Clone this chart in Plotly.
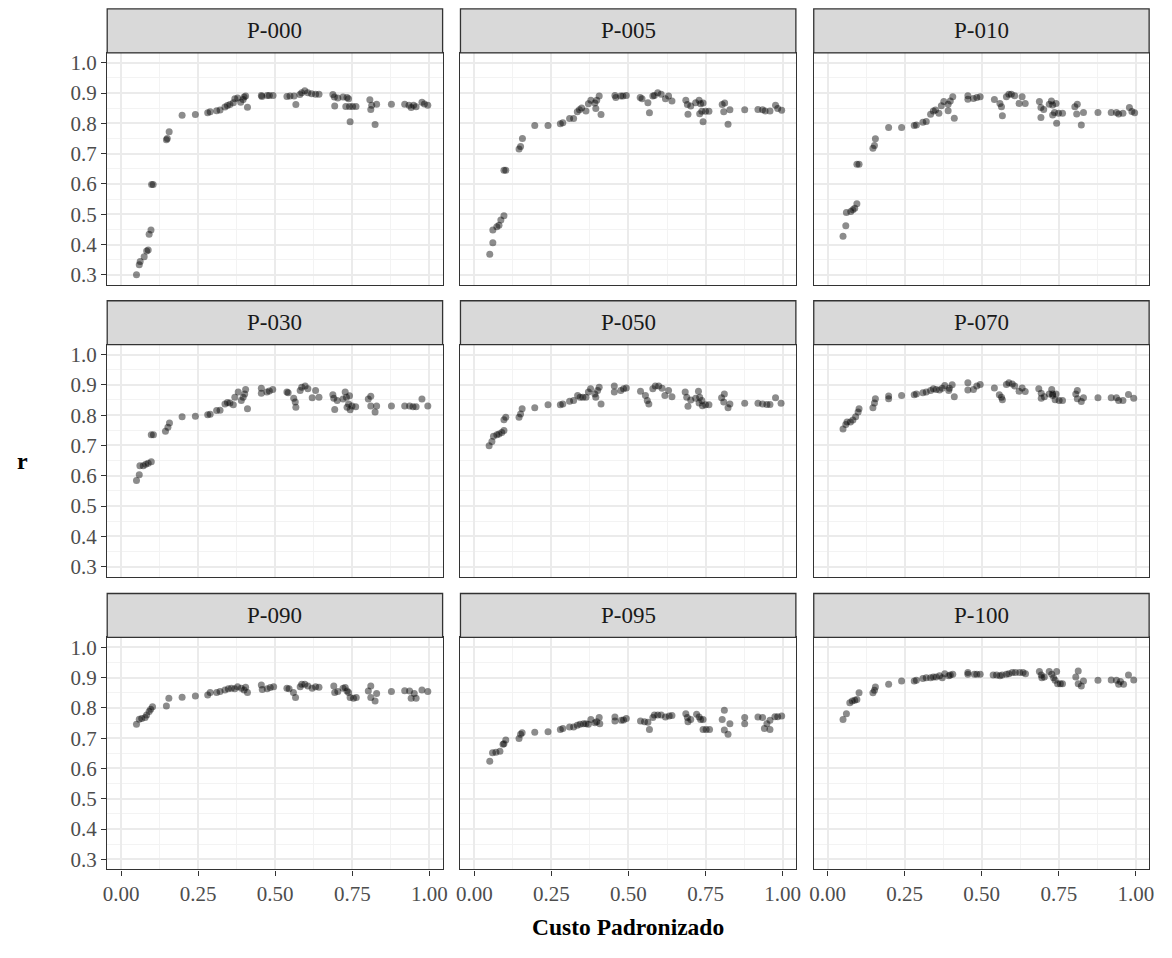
import plotly.graph_objects as go

# ---- data: standardized cost vs. correlation r, one pair of lists per scenario ----
panels = ["P-000", "P-005", "P-010", "P-030", "P-050", "P-070", "P-090", "P-095", "P-100"]

cost_000 = [0.050, 0.059, 0.062, 0.075, 0.083, 0.088, 0.091, 0.097, 0.099, 0.104,
            0.147, 0.150, 0.156, 0.198, 0.241, 0.281, 0.289, 0.310, 0.321, 0.337,
            0.345, 0.353, 0.364, 0.369, 0.378, 0.388, 0.396, 0.399, 0.404, 0.410,
            0.455, 0.457, 0.474, 0.481, 0.493, 0.538, 0.548, 0.561, 0.567, 0.580,
            0.586, 0.596, 0.606, 0.618, 0.631, 0.642, 0.687, 0.692, 0.693, 0.703,
            0.720, 0.733, 0.738, 0.729, 0.741, 0.743, 0.751, 0.762, 0.807, 0.810,
            0.813, 0.824, 0.829, 0.877, 0.920, 0.934, 0.941, 0.949, 0.957, 0.976,
            0.984, 0.995]
r_000 = [0.300, 0.333, 0.344, 0.360, 0.379, 0.382, 0.434, 0.448, 0.598, 0.598,
         0.746, 0.750, 0.772, 0.827, 0.829, 0.835, 0.838, 0.842, 0.844, 0.854,
         0.859, 0.862, 0.868, 0.881, 0.884, 0.870, 0.879, 0.887, 0.890, 0.853,
         0.892, 0.889, 0.892, 0.892, 0.892, 0.889, 0.890, 0.890, 0.862, 0.895,
         0.901, 0.908, 0.901, 0.898, 0.896, 0.896, 0.895, 0.887, 0.857, 0.884,
         0.887, 0.885, 0.881, 0.856, 0.856, 0.805, 0.856, 0.856, 0.878, 0.846,
         0.860, 0.796, 0.863, 0.863, 0.863, 0.860, 0.852, 0.860, 0.855, 0.870,
         0.864, 0.860]

cost_005 = [0.050, 0.060, 0.060, 0.073, 0.080, 0.086, 0.096, 0.096, 0.102, 0.145,
            0.150, 0.156, 0.196, 0.239, 0.279, 0.287, 0.309, 0.322, 0.334, 0.341,
            0.348, 0.362, 0.370, 0.378, 0.391, 0.394, 0.397, 0.405, 0.411, 0.456,
            0.459, 0.475, 0.482, 0.493, 0.538, 0.544, 0.563, 0.568, 0.579, 0.584,
            0.595, 0.606, 0.620, 0.630, 0.641, 0.686, 0.691, 0.693, 0.702, 0.718,
            0.729, 0.734, 0.742, 0.731, 0.738, 0.742, 0.750, 0.761, 0.804, 0.812,
            0.809, 0.823, 0.829, 0.877, 0.920, 0.935, 0.943, 0.959, 0.977, 0.984,
            0.997]
r_005 = [0.368, 0.406, 0.448, 0.459, 0.464, 0.481, 0.495, 0.645, 0.645, 0.715,
         0.724, 0.750, 0.793, 0.793, 0.799, 0.802, 0.816, 0.816, 0.838, 0.845,
         0.851, 0.841, 0.865, 0.876, 0.867, 0.849, 0.876, 0.890, 0.829, 0.892,
         0.885, 0.890, 0.890, 0.892, 0.885, 0.881, 0.868, 0.835, 0.890, 0.892,
         0.901, 0.896, 0.881, 0.890, 0.874, 0.876, 0.862, 0.830, 0.857, 0.868,
         0.876, 0.865, 0.867, 0.832, 0.840, 0.805, 0.840, 0.840, 0.862, 0.867,
         0.838, 0.797, 0.845, 0.845, 0.846, 0.845, 0.841, 0.841, 0.860, 0.849,
         0.843]

cost_010 = [0.050, 0.059, 0.061, 0.075, 0.082, 0.088, 0.095, 0.095, 0.102, 0.147,
            0.152, 0.155, 0.198, 0.240, 0.281, 0.288, 0.309, 0.320, 0.334, 0.343,
            0.350, 0.361, 0.369, 0.377, 0.391, 0.391, 0.398, 0.406, 0.411, 0.455,
            0.455, 0.473, 0.484, 0.495, 0.541, 0.559, 0.564, 0.567, 0.580, 0.588,
            0.596, 0.607, 0.621, 0.631, 0.641, 0.687, 0.692, 0.692, 0.701, 0.719,
            0.726, 0.730, 0.741, 0.730, 0.736, 0.743, 0.749, 0.762, 0.802, 0.810,
            0.808, 0.823, 0.830, 0.877, 0.920, 0.937, 0.944, 0.958, 0.979, 0.987,
            0.996]
r_010 = [0.427, 0.462, 0.506, 0.509, 0.515, 0.520, 0.535, 0.665, 0.665, 0.718,
         0.727, 0.749, 0.786, 0.786, 0.793, 0.795, 0.804, 0.806, 0.830, 0.841,
         0.844, 0.833, 0.858, 0.872, 0.863, 0.842, 0.874, 0.888, 0.817, 0.891,
         0.880, 0.882, 0.885, 0.888, 0.879, 0.866, 0.855, 0.825, 0.888, 0.896,
         0.896, 0.891, 0.866, 0.888, 0.866, 0.872, 0.852, 0.819, 0.846, 0.863,
         0.874, 0.861, 0.866, 0.828, 0.836, 0.800, 0.833, 0.833, 0.855, 0.863,
         0.831, 0.795, 0.836, 0.836, 0.836, 0.836, 0.831, 0.833, 0.852, 0.839,
         0.835]

cost_030 = [0.050, 0.059, 0.061, 0.072, 0.080, 0.088, 0.098, 0.098, 0.105, 0.144,
            0.152, 0.157, 0.198, 0.241, 0.281, 0.289, 0.310, 0.321, 0.337, 0.345,
            0.353, 0.364, 0.369, 0.380, 0.390, 0.396, 0.401, 0.404, 0.410, 0.455,
            0.455, 0.473, 0.481, 0.492, 0.538, 0.542, 0.560, 0.565, 0.567, 0.581,
            0.586, 0.597, 0.606, 0.620, 0.631, 0.642, 0.687, 0.690, 0.693, 0.701,
            0.720, 0.727, 0.731, 0.741, 0.733, 0.738, 0.743, 0.749, 0.761, 0.802,
            0.810, 0.810, 0.824, 0.829, 0.877, 0.920, 0.936, 0.947, 0.957, 0.976,
            0.995]
r_030 = [0.584, 0.603, 0.633, 0.633, 0.638, 0.641, 0.646, 0.735, 0.735, 0.747,
         0.760, 0.774, 0.795, 0.796, 0.801, 0.803, 0.815, 0.816, 0.837, 0.842,
         0.840, 0.834, 0.859, 0.876, 0.848, 0.859, 0.870, 0.885, 0.821, 0.889,
         0.872, 0.876, 0.880, 0.885, 0.876, 0.874, 0.856, 0.843, 0.826, 0.881,
         0.892, 0.896, 0.887, 0.857, 0.881, 0.859, 0.867, 0.856, 0.819, 0.848,
         0.853, 0.876, 0.859, 0.864, 0.826, 0.837, 0.818, 0.830, 0.828, 0.853,
         0.862, 0.830, 0.810, 0.830, 0.830, 0.830, 0.830, 0.828, 0.828, 0.853,
         0.830]

cost_050 = [0.048, 0.057, 0.062, 0.073, 0.080, 0.089, 0.096, 0.096, 0.102, 0.145,
            0.150, 0.155, 0.196, 0.239, 0.279, 0.287, 0.309, 0.322, 0.335, 0.343,
            0.352, 0.362, 0.370, 0.377, 0.391, 0.394, 0.400, 0.405, 0.411, 0.454,
            0.454, 0.475, 0.484, 0.493, 0.539, 0.555, 0.561, 0.566, 0.579, 0.587,
            0.598, 0.609, 0.618, 0.630, 0.641, 0.684, 0.689, 0.693, 0.702, 0.718,
            0.727, 0.731, 0.738, 0.729, 0.740, 0.750, 0.761, 0.802, 0.811, 0.809,
            0.823, 0.829, 0.877, 0.920, 0.935, 0.949, 0.959, 0.977, 0.995]
r_050 = [0.699, 0.713, 0.730, 0.735, 0.738, 0.743, 0.749, 0.785, 0.793, 0.793,
         0.804, 0.821, 0.824, 0.834, 0.834, 0.837, 0.846, 0.848, 0.865, 0.859,
         0.859, 0.859, 0.876, 0.887, 0.870, 0.859, 0.881, 0.892, 0.837, 0.896,
         0.876, 0.881, 0.887, 0.890, 0.879, 0.865, 0.848, 0.837, 0.887, 0.896,
         0.896, 0.889, 0.865, 0.881, 0.861, 0.876, 0.859, 0.829, 0.850, 0.856,
         0.879, 0.859, 0.848, 0.840, 0.831, 0.834, 0.834, 0.857, 0.870, 0.843,
         0.824, 0.837, 0.839, 0.839, 0.837, 0.835, 0.835, 0.857, 0.839]

cost_070 = [0.050, 0.059, 0.063, 0.074, 0.082, 0.091, 0.099, 0.102, 0.147, 0.152,
            0.155, 0.198, 0.198, 0.240, 0.281, 0.288, 0.309, 0.320, 0.334, 0.343,
            0.352, 0.363, 0.372, 0.380, 0.393, 0.395, 0.404, 0.411, 0.455, 0.455,
            0.473, 0.484, 0.495, 0.541, 0.557, 0.564, 0.567, 0.580, 0.588, 0.599,
            0.607, 0.621, 0.631, 0.641, 0.685, 0.693, 0.693, 0.703, 0.719, 0.727,
            0.730, 0.741, 0.730, 0.738, 0.751, 0.762, 0.805, 0.810, 0.810, 0.823,
            0.830, 0.877, 0.920, 0.937, 0.944, 0.958, 0.976, 0.993]
r_070 = [0.754, 0.769, 0.777, 0.777, 0.784, 0.795, 0.810, 0.821, 0.824, 0.840,
         0.854, 0.854, 0.863, 0.865, 0.867, 0.870, 0.874, 0.876, 0.881, 0.887,
         0.885, 0.883, 0.889, 0.898, 0.881, 0.889, 0.900, 0.861, 0.907, 0.883,
         0.885, 0.896, 0.901, 0.890, 0.867, 0.859, 0.851, 0.901, 0.907, 0.903,
         0.896, 0.879, 0.890, 0.878, 0.887, 0.872, 0.856, 0.861, 0.870, 0.885,
         0.870, 0.870, 0.865, 0.851, 0.848, 0.848, 0.870, 0.881, 0.854, 0.845,
         0.857, 0.857, 0.857, 0.857, 0.848, 0.848, 0.868, 0.856]

cost_090 = [0.050, 0.059, 0.067, 0.078, 0.083, 0.091, 0.096, 0.102, 0.147, 0.155,
            0.198, 0.241, 0.281, 0.289, 0.310, 0.321, 0.337, 0.348, 0.358, 0.369,
            0.378, 0.390, 0.399, 0.404, 0.410, 0.455, 0.458, 0.474, 0.484, 0.495,
            0.538, 0.545, 0.559, 0.566, 0.581, 0.586, 0.596, 0.606, 0.620, 0.631,
            0.642, 0.690, 0.693, 0.703, 0.720, 0.727, 0.733, 0.738, 0.743, 0.754,
            0.763, 0.802, 0.810, 0.810, 0.824, 0.829, 0.877, 0.920, 0.936, 0.941,
            0.951, 0.957, 0.976, 0.995]
r_090 = [0.746, 0.763, 0.765, 0.768, 0.777, 0.788, 0.796, 0.804, 0.806, 0.832,
         0.835, 0.839, 0.843, 0.851, 0.851, 0.854, 0.859, 0.863, 0.865, 0.863,
         0.870, 0.865, 0.859, 0.868, 0.851, 0.876, 0.861, 0.863, 0.867, 0.870,
         0.865, 0.863, 0.851, 0.834, 0.870, 0.878, 0.878, 0.872, 0.865, 0.870,
         0.868, 0.872, 0.851, 0.854, 0.865, 0.867, 0.856, 0.851, 0.834, 0.832,
         0.834, 0.856, 0.872, 0.834, 0.823, 0.848, 0.854, 0.857, 0.856, 0.832,
         0.848, 0.832, 0.859, 0.854]

cost_095 = [0.050, 0.059, 0.070, 0.083, 0.093, 0.096, 0.102, 0.145, 0.150, 0.155,
            0.196, 0.239, 0.279, 0.287, 0.309, 0.322, 0.334, 0.343, 0.354, 0.362,
            0.370, 0.378, 0.391, 0.397, 0.405, 0.407, 0.456, 0.456, 0.477, 0.484,
            0.493, 0.539, 0.552, 0.563, 0.568, 0.579, 0.584, 0.595, 0.606, 0.620,
            0.632, 0.641, 0.686, 0.691, 0.693, 0.702, 0.721, 0.729, 0.734, 0.742,
            0.742, 0.752, 0.763, 0.804, 0.811, 0.811, 0.823, 0.829, 0.877, 0.877,
            0.920, 0.935, 0.941, 0.949, 0.959, 0.959, 0.975, 0.984, 0.997]
r_095 = [0.624, 0.652, 0.654, 0.657, 0.680, 0.682, 0.694, 0.699, 0.713, 0.718,
         0.720, 0.721, 0.729, 0.732, 0.737, 0.737, 0.743, 0.746, 0.748, 0.748,
         0.746, 0.762, 0.751, 0.754, 0.768, 0.748, 0.770, 0.757, 0.759, 0.760,
         0.765, 0.757, 0.754, 0.753, 0.729, 0.768, 0.777, 0.777, 0.777, 0.770,
         0.773, 0.775, 0.781, 0.768, 0.754, 0.762, 0.779, 0.770, 0.762, 0.762,
         0.729, 0.729, 0.729, 0.762, 0.792, 0.727, 0.713, 0.748, 0.768, 0.748,
         0.770, 0.768, 0.732, 0.748, 0.729, 0.759, 0.771, 0.771, 0.773]

cost_100 = [0.050, 0.061, 0.072, 0.080, 0.088, 0.095, 0.102, 0.147, 0.152, 0.155,
            0.198, 0.240, 0.281, 0.288, 0.309, 0.320, 0.334, 0.343, 0.352, 0.363,
            0.372, 0.380, 0.393, 0.398, 0.406, 0.455, 0.455, 0.476, 0.484, 0.495,
            0.537, 0.548, 0.559, 0.566, 0.580, 0.588, 0.599, 0.609, 0.623, 0.634,
            0.642, 0.687, 0.693, 0.695, 0.703, 0.719, 0.727, 0.733, 0.743, 0.738,
            0.746, 0.755, 0.762, 0.805, 0.813, 0.813, 0.823, 0.830, 0.877, 0.920,
            0.937, 0.944, 0.950, 0.960, 0.976, 0.993]
r_100 = [0.762, 0.781, 0.817, 0.823, 0.825, 0.828, 0.850, 0.850, 0.858, 0.869,
         0.878, 0.889, 0.889, 0.891, 0.897, 0.900, 0.900, 0.902, 0.902, 0.906,
         0.900, 0.913, 0.906, 0.909, 0.911, 0.917, 0.911, 0.911, 0.911, 0.911,
         0.909, 0.909, 0.906, 0.909, 0.911, 0.913, 0.917, 0.917, 0.917, 0.917,
         0.913, 0.920, 0.909, 0.900, 0.902, 0.920, 0.911, 0.900, 0.920, 0.891,
         0.880, 0.880, 0.880, 0.902, 0.922, 0.880, 0.872, 0.889, 0.891, 0.892,
         0.891, 0.878, 0.887, 0.878, 0.909, 0.892]

series = [
    (panels[0], cost_000, r_000), (panels[1], cost_005, r_005), (panels[2], cost_010, r_010),
    (panels[3], cost_030, r_030), (panels[4], cost_050, r_050), (panels[5], cost_070, r_070),
    (panels[6], cost_090, r_090), (panels[7], cost_095, r_095), (panels[8], cost_100, r_100),
]
for name, xs, ys in series:
    assert len(xs) == len(ys), name

# ---- layout geometry (pixels) ----
W, H = 1172, 958
col_px = [(104, 442), (460, 798), (816, 1154)]
row_px = [(51, 284), (344, 577), (638, 871)]
STRIP_H = 44
X_RANGE = [-0.045, 1.043]
Y_RANGE = [0.267, 1.033]

FONT = "Liberation Serif"
tick_font = dict(family=FONT, size=21, color="#4d4d4d")
MAJOR = "#ebebeb"
MINOR = "#f3f3f3"
EDGE = "#333333"

fig = go.Figure()
layout = {}
shapes = []
annotations = []

for i, (name, xs, ys) in enumerate(series):
    row, col = divmod(i, 3)
    sfx = "" if i == 0 else str(i + 1)
    fig.add_trace(go.Scatter(
        x=xs, y=ys, mode="markers", xaxis="x" + sfx, yaxis="y" + sfx,
        marker=dict(size=7, color="rgba(0,0,0,0.45)", line=dict(width=0)),
        showlegend=False, hoverinfo="skip",
    ))
    x0, x1 = col_px[col]
    y0, y1 = row_px[row]
    layout["xaxis" + sfx] = dict(
        domain=[x0 / W, x1 / W], range=X_RANGE, anchor="y" + sfx,
        tickmode="linear", tick0=0, dtick=0.25, tickformat=".2f",
        showgrid=True, gridcolor=MAJOR, gridwidth=1.6,
        minor=dict(tickmode="linear", tick0=0.125, dtick=0.25, showgrid=True,
                   gridcolor=MINOR, gridwidth=1.0),
        zeroline=False, showline=True, mirror=True, linecolor=EDGE, linewidth=1.3,
        ticks="outside" if row == 2 else "", ticklen=5, tickwidth=1.3, tickcolor=EDGE,
        showticklabels=(row == 2), tickfont=tick_font, fixedrange=True,
    )
    layout["yaxis" + sfx] = dict(
        domain=[1 - y1 / H, 1 - y0 / H], range=Y_RANGE, anchor="x" + sfx,
        tickmode="linear", tick0=0.3, dtick=0.1, tickformat=".1f",
        showgrid=True, gridcolor=MAJOR, gridwidth=1.6,
        minor=dict(tickmode="linear", tick0=0.35, dtick=0.1, showgrid=True,
                   gridcolor=MINOR, gridwidth=1.0),
        zeroline=False, showline=True, mirror=True, linecolor=EDGE, linewidth=1.3,
        ticks="outside" if col == 0 else "", ticklen=5, tickwidth=1.3, tickcolor=EDGE,
        showticklabels=(col == 0), tickfont=tick_font, fixedrange=True,
    )
    # facet strip
    shapes.append(dict(
        type="rect", xref="paper", yref="paper",
        x0=x0 / W, x1=x1 / W, y0=1 - y0 / H, y1=1 - (y0 - STRIP_H) / H,
        fillcolor="#d9d9d9", line=dict(color=EDGE, width=1.3), layer="above",
    ))
    annotations.append(dict(
        text=name, xref="paper", yref="paper",
        x=(x0 + x1) / 2 / W, y=1 - (y0 - STRIP_H / 2) / H,
        xanchor="center", yanchor="middle", showarrow=False,
        font=dict(family=FONT, size=23, color="#1a1a1a"),
    ))

annotations.append(dict(
    text="<b>Custo Padronizado</b>", xref="paper", yref="paper",
    x=629 / W, y=1 - 929 / H, xanchor="center", yanchor="middle", showarrow=False,
    font=dict(family=FONT, size=23.5, color="#000000"),
))
annotations.append(dict(
    text="<b>r</b>", xref="paper", yref="paper",
    x=19 / W, y=1 - 461 / H, xanchor="center", yanchor="middle", showarrow=False,
    font=dict(family=FONT, size=24, color="#000000"),
))

fig.update_layout(
    width=W, height=H, margin=dict(l=0, r=0, t=0, b=0),
    paper_bgcolor="white", plot_bgcolor="white",
    shapes=shapes, annotations=annotations, **layout,
)

fig.write_html("out.html")
